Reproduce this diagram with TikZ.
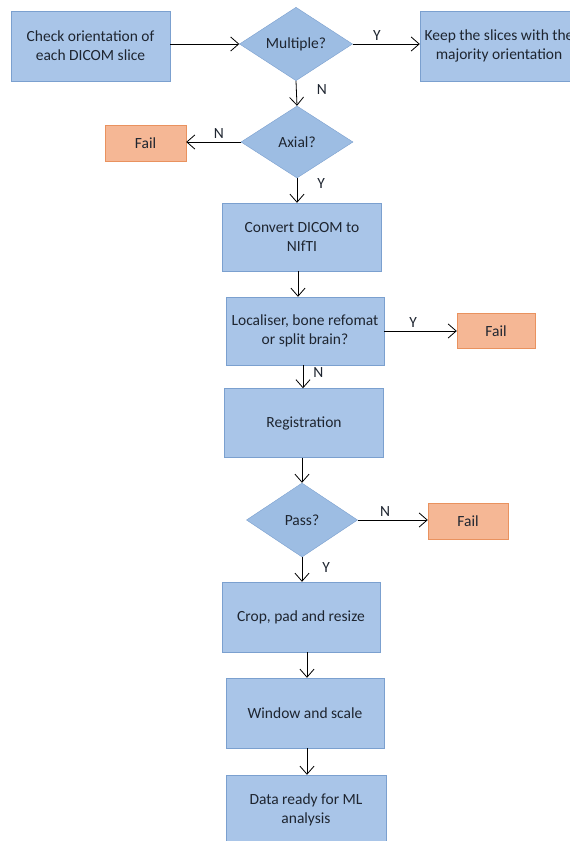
\documentclass[tikz,border=0pt]{standalone}
\usepackage{fontspec}
\setmainfont{Carlito}
\usepackage{tikz}
\usetikzlibrary{shapes.geometric, arrows.meta}
\definecolor{colorStep}{HTML}{A9C5E8}
\definecolor{colorStepLine}{HTML}{7BA0CF}
\definecolor{colorAsk}{HTML}{9DBDE3}
\definecolor{colorFail}{HTML}{F5B795}
\definecolor{colorFailLine}{HTML}{E9925F}
\definecolor{colorText}{HTML}{1E2530}

\begin{document}
\begin{tikzpicture}[x=1pt, y=-1pt,
        stepbox/.style={draw=colorStepLine, fill=colorStep, inner sep=0pt, align=center, text=colorText, font=\fontsize{15.5}{19}\selectfont},
        askbox/.style={diamond, draw=colorStepLine, fill=colorAsk, inner sep=0pt, align=center, text=colorText, font=\fontsize{15.5}{19}\selectfont},
        failbox/.style={draw=colorFailLine, fill=colorFail, inner sep=0pt, text=colorText, font=\fontsize{15.5}{19}\selectfont, minimum width=78pt, minimum height=35pt},
        flow/.style={-{Straight Barb[length=8pt, width=14pt]}, thick},
        yn/.style={inner sep=0pt, text=colorText, font=\fontsize{15.5}{19}\selectfont}]
        \clip (0,0) rectangle (570,841);
        \fill[white] (0,0) rectangle (570,841);
        \node[stepbox, minimum width=159pt, minimum height=70pt] (check) at (90.5,46) {Check orientation of\\each DICOM slice};
        \node[askbox, minimum width=113pt, minimum height=72pt] (multiple) at (296,44) {Multiple?};
        \node[stepbox, minimum width=158pt, minimum height=70pt] (keep) at (499,46) {Keep the slices with the\\majority orientation};
        \node[askbox, minimum width=112pt, minimum height=72pt] (axial) at (297,142) {Axial?};
        \node[failbox, minimum width=81pt, minimum height=36pt] (failA) at (145.5,143) {Fail};
        \node[stepbox, minimum width=159pt, minimum height=68pt] (convert) at (302,237) {Convert DICOM to\\NIfTI};
        \node[stepbox, minimum width=158pt, minimum height=68pt] (local) at (305,331) {Localiser, bone refomat\\or split brain?};
        \node[failbox] (failB) at (496,331) {Fail};
        \node[stepbox, minimum width=159pt, minimum height=69pt] (reg) at (304,423) {Registration};
        \node[askbox, minimum width=111pt, minimum height=74pt] (pass) at (302,520) {Pass?};
        \node[failbox, minimum width=80pt, minimum height=36pt] (failC) at (468,521) {Fail};
        \node[stepbox, minimum width=158pt, minimum height=70pt] (crop) at (301,617) {Crop, pad and resize};
        \node[stepbox, minimum width=158pt, minimum height=70pt] (window) at (305,713) {Window and scale};
        \node[stepbox, minimum width=160pt, minimum height=70pt] (data) at (306,810) {Data ready for ML\\analysis};

        \draw[flow] (check.east |- multiple.west) -- (multiple.west);
        \draw[flow] (multiple.east) -- node[yn, pos=0.36, above=3pt] {Y} (multiple.east -| keep.west);
        \draw[flow] (multiple.south) -- node[yn, pos=0.35, right=20pt] {N} (axial.north);
        \draw[flow] (axial.west) -- node[yn, pos=0.4, above=3pt] {N} (axial.west -| failA.east);
        \draw[flow] (axial.south) -- node[yn, pos=0.2, right=20pt] {Y} (axial.south |- convert.north);
        \draw[flow] (298,0 |- convert.south) -- (298,0 |- local.north);
        \draw[flow] (local.east |- failB.west) -- node[yn, pos=0.4, above=3pt] {Y} (failB.west);
        \draw[flow] (303,0 |- local.south) -- node[yn, pos=0.3, right=10pt] {N} (303,0 |- reg.north);
        \draw[flow] (302,0 |- reg.south) -- (pass.north);
        \draw[flow] (pass.east) -- node[yn, pos=0.39, above=3pt] {N} (pass.east -| failC.west);
        \draw[flow] (pass.south) -- node[yn, pos=0.4, right=20pt] {Y} (pass.south |- crop.north);
        \draw[flow] (307,0 |- crop.south) -- (307,0 |- window.north);
        \draw[flow] (307,0 |- window.south) -- (307,0 |- data.north);
    \end{tikzpicture}
\end{document}
